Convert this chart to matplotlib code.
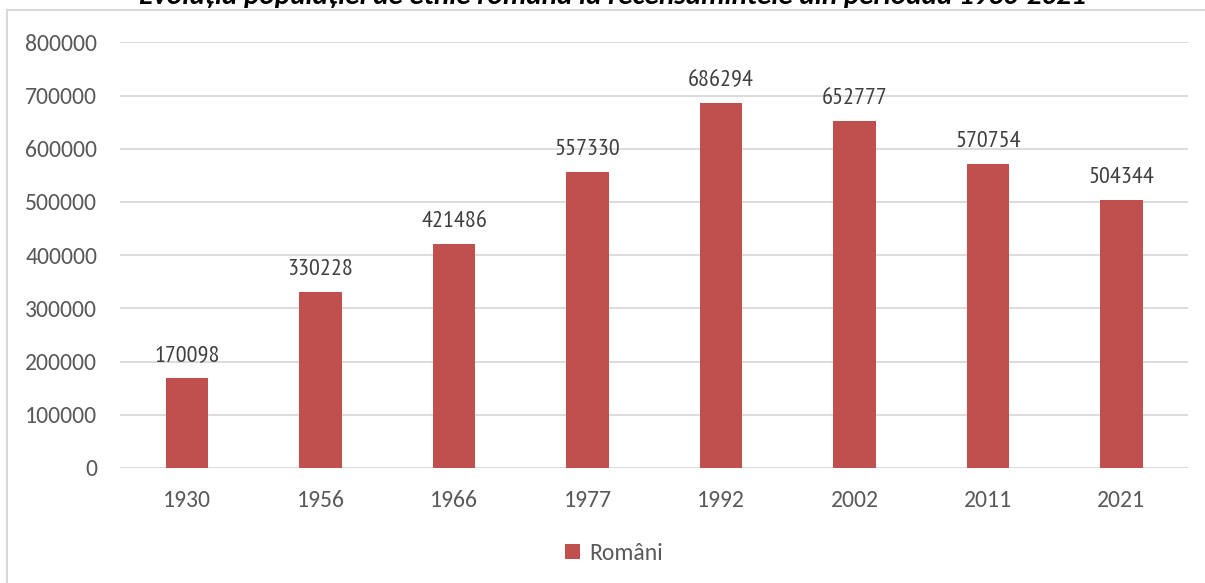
import matplotlib.pyplot as plt
from matplotlib.patches import Rectangle

years = ["1930", "1956", "1966", "1977", "1992", "2002", "2011", "2021"]
romani = [170098, 330228, 421486, 557330, 686294, 652777, 570754, 504344]
y_ticks = [0, 100000, 200000, 300000, 400000, 500000, 600000, 700000, 800000]

BAR_COLOR = "#C0504D"
GRID_COLOR = "#D9D9D9"
TICK_COLOR = "#595959"

fig = plt.figure(figsize=(12.05, 5.83), dpi=100)

# chart frame (runs off the right and bottom edge in the reference)
fig.patches.append(Rectangle((7 / 1205, -0.1), 1.1, 1.1 - 10 / 583,
                             transform=fig.transFigure, fill=False,
                             edgecolor=GRID_COLOR, linewidth=1.5))

ax = fig.add_axes([120.25 / 1205, 1 - 468 / 583, 1068 / 1205, (468 - 42.4) / 583])

x = range(len(years))
bars = ax.bar(x, romani, width=0.315, color=BAR_COLOR, label="Români", zorder=2)

ax.set_xlim(-0.5, len(years) - 0.5)
ax.set_ylim(0, 800000)
ax.set_yticks(y_ticks)
ax.set_yticklabels([str(v) for v in y_ticks])
ax.set_xticks(list(x))
ax.set_xticklabels(years)

ax.grid(axis="y", color=GRID_COLOR, linewidth=1.3, zorder=0)
for side in ["top", "right", "left", "bottom"]:
    ax.spines[side].set_visible(False)
ax.tick_params(axis="both", length=0, colors=TICK_COLOR, labelsize=17)
ax.tick_params(axis="y", pad=16.5)
ax.tick_params(axis="x", pad=16)
for lbl in ax.get_xticklabels() + ax.get_yticklabels():
    lbl.set_fontfamily("Carlito")

for rect, val in zip(bars, romani):
    ax.annotate(str(val), (rect.get_x() + rect.get_width() / 2, val),
                xytext=(0, 12.2), textcoords="offset points",
                ha="center", va="baseline", fontsize=17.5, color="#404040",
                family=["PT Sans Narrow", "DejaVu Sans"])

fig.legend(loc="center", bbox_to_anchor=(614 / 1205, 1 - 553 / 583),
           frameon=False, handlelength=0.6, handleheight=0.6, handletextpad=0.4,
           prop={"family": "Carlito", "size": 17}, labelcolor=TICK_COLOR)

fig.text(612 / 1205, 1 - 4 / 583,
         "Evoluția populației de etnie română la recensămintele din perioada 1930-2021",
         ha="center", va="baseline", fontsize=21, fontweight="bold",
         fontstyle="italic", family="Carlito")

fig.savefig("out.png", dpi=100)
